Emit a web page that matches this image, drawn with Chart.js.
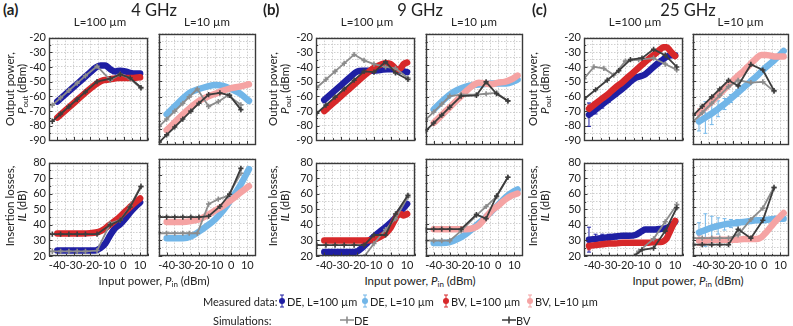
<!DOCTYPE html>
<html><head><meta charset="utf-8">
<script src="https://cdn.jsdelivr.net/npm/chart.js@4.4.1/dist/chart.umd.min.js"></script>
<style>
body{margin:0;background:#fff;width:793px;height:326px;overflow:hidden;position:relative;font-family:Lato,'Open Sans',sans-serif;color:#222}
canvas{position:absolute}
svg{display:block}
.t{position:absolute;white-space:nowrap;transform:translate(-50%,-50%);line-height:1}
.r{position:absolute;white-space:nowrap;transform:translate(-50%,-50%) rotate(-90deg);line-height:1;font-size:11.5px}
.l{position:absolute;white-space:nowrap;transform:translate(0,-50%);line-height:1;font-size:11px}
sub{font-size:8px;vertical-align:-2px;line-height:0}
.g{position:absolute;transform:translate(-50%,-50%)}
</style></head><body>
<script>
// ---------------- DATA ----------------
// x = input power (dBm); out = output power (dBm); il = insertion loss (dB)
// 4 GHz, L=100 um
const a100_DE_x   = [-40,-35,-30,-25,-20,-17,-14,-11,-8,-5,-2,1,4,7,10];
const a100_DE_out = [-63.5,-58.5,-53.5,-48.5,-43.5,-40.5,-39,-39,-41.5,-43,-42.5,-43,-44,-44.5,-44.5];
const a100_DE_il  = [23.5,23.5,23.5,23.5,23.5,23.5,25,28,33.5,38,40.5,44,48,51.5,54.5];
const a100_BV_x   = [-40,-35,-30,-25,-20,-15,-12,-9,-6,-3,0,3,6,10];
const a100_BV_out = [-74.5,-69.5,-64.5,-59.5,-54.7,-50.5,-49,-48.5,-48,-47.5,-47.5,-47.5,-47.5,-47];
const a100_BV_il  = [34.5,34.5,34.5,34.5,34.7,35.5,37,39.5,42,44.5,47.5,50.5,53.5,57];
const a100_sim_x      = [-43,-38,-33,-28,-23,-16,-8,-2,4,10.5];
const a100_simDE_out  = [-66,-61,-56,-51,-46,-39.5,-49,-45,-48,-54.5];
const a100_simDE_il   = [23,23,23,23,23,23.5,41,43,52,65];
const a100_simBV_out  = [-77,-72,-67,-62,-57,-50,-48,-45,-47.5,-54];
const a100_simBV_il   = [34,34,34,34,34,34,40,43,51.5,64.5];
// 4 GHz, L=10 um
const a10_DE_x   = [-40,-35,-30,-25,-20,-15,-10,-5,0,5,11];
const a10_DE_out = [-71,-66,-61,-57,-55,-53.5,-52.5,-53,-55,-57.5,-62.5];
const a10_DE_il  = [31,31,31,32,35,38.5,42.5,48,55,62.5,73.5];
const a10_BV_x   = [-40,-35,-30,-25,-20,-15,-10,-5,0,5,11];
const a10_BV_out = [-81,-76,-71,-66.5,-62.5,-60,-58,-56,-54.5,-53.5,-52];
const a10_BV_il  = [41,41,41,41.5,42.5,45,48,51,54.5,58.5,63];
const a10_simDE_x   = [-44.5,-40,-35,-30,-26,-21,-14,-8,-2,6];
const a10_simDE_out = [-78.5,-74,-69,-64,-60,-55,-66,-63,-59,-65];
const a10_simDE_il  = [34,34,34,34,34,34,52,55,57,71];
const a10_simBV_x   = [-44.5,-40,-35,-30,-25,-20,-14,-7,-1,6];
const a10_simBV_out = [-88.5,-84,-79,-74,-69,-64,-58.5,-57.5,-59,-68];
const a10_simBV_il  = [44,44,44,44,44,44,44.5,50.5,58,74];
// 9 GHz, L=100 um
const b100_DE_x   = [-40,-35,-30,-25,-20,-17,-14,-10,-6,-2,2,6,10];
const b100_DE_out = [-62.5,-57.5,-52.5,-47.5,-43,-42.5,-42.5,-42.5,-42,-41.5,-41.5,-42.5,-43.5];
const b100_DE_il  = [22.5,22.5,22.5,22.5,23,25.5,28.5,32.5,36,39.5,43.5,48.5,53.5];
const b100_BV_x   = [-40,-35,-30,-25,-20,-15,-10,-6,-3,0,2,4,6,8,10];
const b100_BV_out = [-70,-65,-60,-55,-50,-45,-40.5,-38.5,-37.5,-38,-40,-42,-41,-38,-37];
const b100_BV_il  = [30,30,30,30,30,30,30.5,32.5,34.5,38,42,46,47,46,47];
const b100_sim_x      = [-44.5,-39,-33.5,-28,-22,-16,-10,-3,3,10.5];
const b100_simDE_out  = [-54,-48.5,-43,-37.5,-31.5,-35.5,-38,-40,-41,-47.5];
const b100_simDE_il   = [9.5,9.5,9.5,9.5,9.5,19.5,28,37,44,58];
const b100_simBV_out  = [-71.5,-66,-60.5,-55,-49,-43,-43.5,-36.5,-44,-48.5];
const b100_simBV_il   = [27,27,27,27,27,27,33.5,33.5,47,59];
// 9 GHz, L=10 um
const b10_DE_x   = [-40,-35,-30,-25,-20,-15,-10,-5,0,5,10,12];
const b10_DE_out = [-68,-63,-58.5,-55.5,-53.5,-52.5,-52,-51.5,-51.5,-51.5,-50,-49];
const b10_DE_il  = [28,28,28.5,30.5,33.5,37.5,42,46.5,51.5,56.5,60,61];
const b10_BV_x   = [-40,-35,-30,-25,-20,-16,-12,-8,-4,0,4,8,12];
const b10_BV_out = [-76.5,-71.5,-66.5,-61.5,-56.5,-53,-51,-51.5,-52,-51,-50.5,-49,-46.5];
const b10_BV_il  = [36.5,36.5,36.5,36.5,36.5,37,39,43.5,48,51,54.5,57,58.5];
const b10_sim_x      = [-45,-40,-35,-30,-23,-13.5,-7.5,-1,6];
const b10_simDE_out  = [-74.5,-69.5,-64.5,-59.5,-58.5,-58.5,-58,-57.5,-62.5];
const b10_simDE_il   = [29.5,29.5,29.5,29.5,35.5,45,50.5,56.5,68.5];
const b10_simBV_out  = [-81.5,-76.5,-71.5,-66.5,-59.5,-59,-50.5,-58,-62.5];
const b10_simBV_il   = [36.5,36.5,36.5,36.5,36.5,45.5,43,57,68.5];
// 25 GHz, L=100 um
const c100_DE_x      = [-42,-38,-34,-30,-26,-22,-18,-14,-10,-8,-6,-2,2,5,8,10];
const c100_DE_out    = [-72.5,-69,-65.5,-62,-58.5,-55,-51,-47.5,-46,-45,-43,-39,-35.5,-33,-32,-32];
const c100_DE_il     = [30.5,31,31.5,32,32.5,33,33,33.5,36,37,37,37,37.5,38,40,42];
const c100_DE_err    = [8,3,2.5,2,1.5,1,1,1,1,1,1,1,1,1,1,1];
const c100_BV_x      = [-42,-38,-34,-30,-26,-22,-18,-14,-10,-6,-2,1,3,5,7,9,10];
const c100_BV_out    = [-68.5,-65,-61.5,-58,-54,-50.5,-46.5,-42.5,-38.5,-34.5,-31,-28,-26.5,-26.5,-29,-31.5,-32.5];
const c100_BV_il     = [26.5,27,27.5,28,28,28.5,28.5,28.5,28.5,28.5,29,29,29.5,31.5,36,40.5,42.5];
const c100_BV_err    = [2.5,1.5,1,0,0,0,0,0,0,0,0,0,0,0,0,0,0];
const c100_simDE_x   = [-45,-39,-33,-27,-20,-12,-3,4,11];
const c100_simDE_out = [-48,-40,-41,-45.5,-36,-35,-34,-38,-42];
const c100_simDE_il  = [3,1,8,18.5,16,23,31,42,53];
const c100_simBV_x   = [-45,-38,-31,-24,-17,-10,-3,4,11];
const c100_simBV_out = [-62,-55.5,-49,-42.5,-35,-34,-28,-32,-40];
const c100_simBV_il  = [17,17.5,18,18.5,18,24,25,36,51];
// 25 GHz, L=10 um
const c10_DE_x      = [-41,-37,-33,-29,-25,-21,-17,-13,-9,-5,-1,3,7,12];
const c10_DE_out    = [-75.5,-73,-70.5,-67.5,-64.5,-61,-57.5,-54,-50.5,-47,-43,-39.5,-36,-31];
const c10_DE_il     = [34.5,36,37.5,38.5,39.5,40,40.5,41,41.5,42,42,42.5,43,43];
const c10_DE_err    = [6,10,7,5,3.5,2.5,2,1.5,1.5,1,1,1,1,1];
const c10_BV_x      = [-41,-37,-33,-29,-25,-21,-17,-13,-9,-5,-2,1,4,7,10,12];
const c10_BV_out    = [-70.5,-66.5,-63,-59,-55,-51,-47,-43.5,-39.5,-35.5,-33.5,-33.5,-34,-34.5,-34.5,-34.5];
const c10_BV_il     = [29.5,29.5,30,30,30,30,30,30.5,30.5,30.5,31.5,34.5,38,41.5,44.5,46.5];
const c10_BV_err    = [3,2,1.5,0,0,0,0,0,0,0,0,0,0,0,0,0];
const c10_sim_x      = [-44.5,-39,-33,-28,-22.5,-16.5,-8.5,-1,6];
const c10_simDE_out  = [-75.5,-70,-64,-59,-53.5,-49.5,-51,-50.5,-56.5];
const c10_simDE_il   = [31,31,31,31,31,33,42.5,49.5,62.5];
const c10_simBV_out  = [-71.5,-66,-60,-55,-49.5,-53,-39.5,-43,-56];
const c10_simBV_il   = [27,27,27,27,27,36.5,31,42,62];

const groupTitles = ['4 GHz','9 GHz','25 GHz'];
const groupLetters = ['(a)','(b)','(c)'];
const lengthLabels = ['L=100 \u00b5m','L=10 \u00b5m'];
const outTicks = {min:-90, max:-20};
const ilTicks  = {min:20, max:80};
const xTicks   = {min:-45, max:15};

// ---------------- STYLE ----------------
const C = {de100:'#1f1fa3', de10:'#72b6e8', bv100:'#d7282a', bv10:'#f5a3a3', simDE:'#8c8c8c', simBV:'#3d3d3d'};
Chart.defaults.font.family = 'Lato, "Open Sans", sans-serif';
Chart.defaults.font.size = 11;
Chart.defaults.color = '#222';

const pts = (xs, ys) => xs.map((x,i)=>({x, y: ys[i]}));
function meas(xs, ys, color, order, errs){
  return {data: pts(xs,ys), borderColor: color, backgroundColor: color, borderWidth: 6.5, pointRadius: 0,
    cubicInterpolationMode:'monotone', borderCapStyle:'round', borderJoinStyle:'round', order, errs};
}
function sim(xs, ys, color, order){
  return {data: pts(xs,ys), borderColor: color, backgroundColor: color, borderWidth: 1.8, tension: 0,
    pointStyle:'cross', pointRadius: 2.6, pointBorderWidth: 1.6, pointBorderColor: color, order};
}

const framePlugin = {
  id:'frame',
  afterDraw(chart){
    const {ctx, chartArea:a} = chart; const xs = chart.scales.x, ys = chart.scales.y;
    ctx.save();
    ctx.strokeStyle = '#3a3a3a'; ctx.lineWidth = 1;
    for (let v = ys.min; v <= ys.max + 0.01; v += 5){
      const p = Math.round(ys.getPixelForValue(v)) + 0.5, L = (v % 10 === 0) ? 3.5 : 2.2;
      ctx.beginPath(); ctx.moveTo(a.left, p); ctx.lineTo(a.left + L, p); ctx.stroke();
    }
    for (let v = xs.min; v <= xs.max + 0.01; v += 5){
      const p = Math.round(xs.getPixelForValue(v)) + 0.5, L = (v % 10 === 0) ? 3.5 : 2.2;
      ctx.beginPath(); ctx.moveTo(p, a.bottom); ctx.lineTo(p, a.bottom - L); ctx.stroke();
    }
    ctx.lineWidth = 1.4;
    ctx.strokeRect(Math.round(a.left)+0.5, Math.round(a.top)+0.5, Math.round(a.right-a.left)-1, Math.round(a.bottom-a.top)-1);
    ctx.restore();
  }
};
const errPlugin = {
  id:'errbars',
  beforeDatasetsDraw(chart){
    const {ctx, chartArea:a} = chart; const xs = chart.scales.x, ys = chart.scales.y;
    ctx.save(); ctx.beginPath(); ctx.rect(a.left, a.top, a.right-a.left, a.bottom-a.top); ctx.clip();
    chart.data.datasets.forEach(ds => {
      if (!ds.errs) return;
      ctx.strokeStyle = ds.borderColor; ctx.lineWidth = 1;
      ds.data.forEach((p, j) => {
        const e = ds.errs[j]; if (!e) return;
        const px = xs.getPixelForValue(p.x), y1 = ys.getPixelForValue(p.y + e), y2 = ys.getPixelForValue(p.y - e);
        ctx.beginPath(); ctx.moveTo(px, y1); ctx.lineTo(px, y2);
        ctx.moveTo(px-2, y1); ctx.lineTo(px+2, y1); ctx.moveTo(px-2, y2); ctx.lineTo(px+2, y2); ctx.stroke();
      });
    });
    ctx.restore();
  }
};

function panel(plotLeft, plotTop, plotW, plotH, range, showY, showX, datasets){
  const L = showY ? 34 : 3, B = showX ? 18 : 3;
  const cv = document.createElement('canvas');
  const W = plotW + L + 3, H = plotH + 3 + B;
  cv.width = W; cv.height = H; cv.style.left = (plotLeft - L) + 'px'; cv.style.top = (plotTop - 3) + 'px';
  cv.style.width = W + 'px'; cv.style.height = H + 'px';
  document.body.appendChild(cv);
  const lab = v => (Math.round(v) % 10 === 0) ? String(Math.round(v)) : '';
  new Chart(cv, {
    type:'line',
    data:{datasets},
    plugins:[errPlugin, framePlugin],
    options:{
      responsive:false, animation:false, devicePixelRatio:1,
      layout:{padding:{left: showY ? 0 : 3, right:3, top:3, bottom: showX ? 0 : 3}},
      plugins:{legend:{display:false}, tooltip:{enabled:false}},
      scales:{
        x:{type:'linear', min:xTicks.min, max:xTicks.max,
           ticks:{stepSize:5, autoSkip:false, maxRotation:0, minRotation:0, display:showX, padding:3, callback:lab, font:{size:11}},
           grid:{color:'#c4c4c4', lineWidth:0.8, drawTicks:false}, border:{display:false, dash:[1.5,1.5]},
           afterFit: s => { s.height = showX ? 18 : 0; }},
        y:{type:'linear', min:range.min, max:range.max,
           ticks:{stepSize:5, autoSkip:false, display:showY, padding:3, callback:lab, font:{size:11}},
           grid:{color:'#c4c4c4', lineWidth:0.8, drawTicks:false}, border:{display:false, dash:[1.5,1.5]},
           afterFit: s => { s.width = showY ? 34 : 0; }}
      }
    }
  });
}

// ---------------- LAYOUT ----------------
const colLeft = [49, 156, 316, 423, 584, 690];
const colW = [102, 102, 102, 102, 102, 101];
const TOP = {y:31, h:116}, BOT = {y:156, h:100};

const panelsData = [
  [[meas(a100_DE_x,a100_DE_out,C.de100,3), meas(a100_BV_x,a100_BV_out,C.bv100,2), sim(a100_sim_x,a100_simDE_out,C.simDE,1), sim(a100_sim_x,a100_simBV_out,C.simBV,0)],
   [meas(a100_DE_x,a100_DE_il,C.de100,3), meas(a100_BV_x,a100_BV_il,C.bv100,2), sim(a100_sim_x,a100_simDE_il,C.simDE,1), sim(a100_sim_x,a100_simBV_il,C.simBV,0)]],
  [[meas(a10_DE_x,a10_DE_out,C.de10,3), meas(a10_BV_x,a10_BV_out,C.bv10,2), sim(a10_simDE_x,a10_simDE_out,C.simDE,1), sim(a10_simBV_x,a10_simBV_out,C.simBV,0)],
   [meas(a10_DE_x,a10_DE_il,C.de10,3), meas(a10_BV_x,a10_BV_il,C.bv10,2), sim(a10_simDE_x,a10_simDE_il,C.simDE,1), sim(a10_simBV_x,a10_simBV_il,C.simBV,0)]],
  [[meas(b100_DE_x,b100_DE_out,C.de100,3), meas(b100_BV_x,b100_BV_out,C.bv100,2), sim(b100_sim_x,b100_simDE_out,C.simDE,1), sim(b100_sim_x,b100_simBV_out,C.simBV,0)],
   [meas(b100_DE_x,b100_DE_il,C.de100,3), meas(b100_BV_x,b100_BV_il,C.bv100,2), sim(b100_sim_x,b100_simDE_il,C.simDE,1), sim(b100_sim_x,b100_simBV_il,C.simBV,0)]],
  [[meas(b10_DE_x,b10_DE_out,C.de10,3), meas(b10_BV_x,b10_BV_out,C.bv10,2), sim(b10_sim_x,b10_simDE_out,C.simDE,1), sim(b10_sim_x,b10_simBV_out,C.simBV,0)],
   [meas(b10_DE_x,b10_DE_il,C.de10,3), meas(b10_BV_x,b10_BV_il,C.bv10,2), sim(b10_sim_x,b10_simDE_il,C.simDE,1), sim(b10_sim_x,b10_simBV_il,C.simBV,0)]],
  [[meas(c100_DE_x,c100_DE_out,C.de100,3,c100_DE_err), meas(c100_BV_x,c100_BV_out,C.bv100,2,c100_BV_err), sim(c100_simDE_x,c100_simDE_out,C.simDE,1), sim(c100_simBV_x,c100_simBV_out,C.simBV,0)],
   [meas(c100_DE_x,c100_DE_il,C.de100,3,c100_DE_err), meas(c100_BV_x,c100_BV_il,C.bv100,2,c100_BV_err), sim(c100_simDE_x,c100_simDE_il,C.simDE,1), sim(c100_simBV_x,c100_simBV_il,C.simBV,0)]],
  [[meas(c10_DE_x,c10_DE_out,C.de10,3,c10_DE_err), meas(c10_BV_x,c10_BV_out,C.bv10,2,c10_BV_err), sim(c10_sim_x,c10_simDE_out,C.simDE,1), sim(c10_sim_x,c10_simBV_out,C.simBV,0)],
   [meas(c10_DE_x,c10_DE_il,C.de10,3,c10_DE_err), meas(c10_BV_x,c10_BV_il,C.bv10,2,c10_BV_err), sim(c10_sim_x,c10_simDE_il,C.simDE,1), sim(c10_sim_x,c10_simBV_il,C.simBV,0)]]
];

panelsData.forEach((pd, i) => {
  const showY = (i % 2 === 0);
  panel(colLeft[i], TOP.y, colW[i], TOP.h, outTicks, showY, false, pd[0]);
  panel(colLeft[i], BOT.y, colW[i], BOT.h, ilTicks, showY, true, pd[1]);
});

// ---------------- TEXT ----------------
function txt(cls, x, y, html, style){
  const d = document.createElement('div'); d.className = cls; d.style.left = x + 'px'; d.style.top = y + 'px';
  d.innerHTML = html; if (style) d.style.cssText += style; document.body.appendChild(d); return d;
}
const groupCenter = [154, 420, 688];
const letterX = [3, 263, 532];
const yTitleX = [[10, 22], [273, 285], [533, 545]];
for (let g = 0; g < 3; g++){
  txt('l', letterX[g], 9, groupLetters[g], 'font-weight:bold;font-size:15px');
  txt('t', groupCenter[g], 10, groupTitles[g], 'font-size:16.5px');
  for (let k = 0; k < 2; k++){
    const i = g*2 + k;
    txt('t', colLeft[i] + colW[i]/2, 22, lengthLabels[k], 'font-size:11.5px');
  }
  txt('r', yTitleX[g][0], TOP.y + TOP.h/2, 'Output power,');
  txt('r', yTitleX[g][1], TOP.y + TOP.h/2, '<i>P</i><sub>out</sub> (dBm)');
  txt('r', yTitleX[g][0], BOT.y + BOT.h/2, 'Insertion losses,');
  txt('r', yTitleX[g][1], BOT.y + BOT.h/2, '<i>IL</i> (dB)');
  txt('t', groupCenter[g], 281, 'Input power, <i>P</i><sub>in</sub> (dBm)', 'font-size:11.5px');
}
// legend
function measGlyph(c){
  return `<svg width="8" height="14" viewBox="0 0 8 14"><g stroke="${c}" stroke-width="1"><line x1="4" y1="1" x2="4" y2="13"/><line x1="2" y1="1" x2="6" y2="1"/><line x1="2" y1="13" x2="6" y2="13"/></g><circle cx="4" cy="7" r="3" fill="${c}"/></svg>`;
}
function simGlyph(c){
  return `<svg width="14" height="8" viewBox="0 0 14 8"><path d="M0 4 H14 M7 0.5 V7.5" stroke="${c}" stroke-width="1.6" fill="none"/></svg>`;
}
const legY1 = 301, legY2 = 320;
txt('l', 203, legY1, 'Measured data:');
const legMeas = [[282, C.de100, 'DE, L=100 \u00b5m'], [365, C.de10, 'DE, L=10 \u00b5m'], [446, C.bv100, 'BV, L=100 \u00b5m'], [530, C.bv10, 'BV, L=10 \u00b5m']];
legMeas.forEach(([x, c, s]) => { txt('g', x, legY1, measGlyph(c), 'width:8px;height:14px'); txt('l', x + 5, legY1, s); });
txt('l', 213, legY2, 'Simulations:');
txt('g', 347, legY2, simGlyph(C.simDE), 'width:14px;height:8px'); txt('l', 354, legY2, 'DE');
txt('g', 509, legY2, simGlyph(C.simBV), 'width:14px;height:8px'); txt('l', 516, legY2, 'BV');
</script>
</body></html>
